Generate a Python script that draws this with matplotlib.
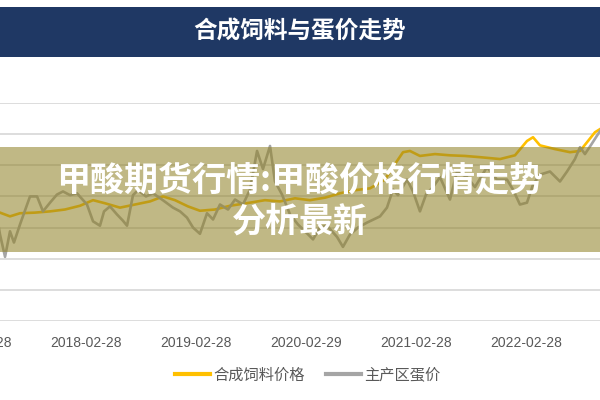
import matplotlib
matplotlib.use("Agg")
import matplotlib.pyplot as plt
from matplotlib.patches import Rectangle
from matplotlib.lines import Line2D

plt.rcParams['font.family'] = ['Noto Sans CJK SC', 'DejaVu Sans']

title = "合成饲料与蛋价走势"
overlay_lines = ["甲酸期货行情:甲酸价格行情走势", "分析最新"]
series_names = ["合成饲料价格", "主产区蛋价"]

tick_pos = [2017.16, 2018.16, 2019.16, 2020.16, 2021.16, 2022.16, 2023.16]
tick_labels = ["2017-02-28", "2018-02-28", "2019-02-28", "2020-02-29",
               "2021-02-28", "2022-02-28", "2023-02-28"]

# feed price (gold line)
feed_x = [2017.378, 2017.469, 2017.56, 2017.696, 2017.833, 2017.969, 2018.105,
          2018.224, 2018.333, 2018.469, 2018.605, 2018.742, 2018.86, 2018.969,
          2019.087, 2019.196, 2019.333, 2019.469, 2019.651, 2019.787, 2019.924,
          2020.06, 2020.196, 2020.333, 2020.469, 2020.605, 2020.742, 2020.878,
          2020.969, 2021.042, 2021.105, 2021.196, 2021.333, 2021.469, 2021.605,
          2021.742, 2021.924, 2022.06, 2022.169, 2022.224, 2022.287, 2022.424,
          2022.56, 2022.651, 2022.724, 2022.787, 2022.878]
feed_y = [3.24, 3.18, 3.23, 3.24, 3.26, 3.29, 3.35,
          3.44, 3.39, 3.32, 3.37, 3.42, 3.50, 3.44,
          3.34, 3.27, 3.29, 3.35, 3.40, 3.44, 3.42,
          3.47, 3.44, 3.48, 3.55, 3.60, 3.63, 3.77,
          4.02, 4.21, 4.23, 4.15, 4.18, 4.16, 4.15,
          4.13, 4.10, 4.16, 4.39, 4.45, 4.32, 4.26,
          4.21, 4.23, 4.39, 4.53, 4.63]

# egg price in main producing areas (gray line)
egg_x = [2017.333, 2017.378, 2017.424, 2017.469, 2017.505, 2017.56, 2017.651,
         2017.715, 2017.769, 2017.833, 2017.896, 2017.951, 2018.015, 2018.078,
         2018.169, 2018.224, 2018.287, 2018.324, 2018.378, 2018.442, 2018.496,
         2018.533, 2018.587, 2018.633, 2018.705, 2018.769, 2018.851, 2018.951,
         2019.015, 2019.078, 2019.133, 2019.196, 2019.26, 2019.315, 2019.378,
         2019.451, 2019.515, 2019.587, 2019.651, 2019.715, 2019.769, 2019.833,
         2019.878, 2019.942, 2020.015, 2020.087, 2020.151, 2020.224, 2020.287,
         2020.351, 2020.442, 2020.496, 2020.56, 2020.633, 2020.715, 2020.833,
         2020.896, 2020.951, 2020.996, 2021.078, 2021.133, 2021.196, 2021.251,
         2021.315, 2021.378, 2021.469, 2021.533, 2021.624, 2021.696, 2021.805,
         2021.896, 2021.987, 2022.042, 2022.105, 2022.169, 2022.224, 2022.287,
         2022.378, 2022.469, 2022.533, 2022.605, 2022.651, 2022.696, 2022.76,
         2022.833, 2022.878]
egg_y = [3.37, 2.89, 2.53, 2.94, 2.76, 3.05, 3.50,
         3.50, 3.26, 3.40, 3.53, 3.58, 3.52, 3.55,
         3.37, 3.10, 3.03, 3.26, 3.34, 3.21, 3.11,
         3.03, 3.52, 3.60, 3.50, 3.55, 3.45, 3.32,
         3.26, 3.16, 3.00, 2.90, 3.23, 3.13, 3.37,
         3.29, 3.45, 3.37, 3.61, 4.23, 3.94, 4.31,
         3.74, 3.53, 3.21, 3.05, 2.94, 2.81, 3.00,
         3.03, 2.85, 2.69, 2.89, 3.00, 3.08, 3.18,
         3.32, 3.61, 3.52, 3.77, 3.58, 3.26, 3.53,
         3.65, 3.81, 3.45, 3.90, 3.81, 3.65, 3.97,
         3.77, 3.77, 3.61, 3.37, 3.40, 3.69, 3.85,
         3.90, 3.74, 3.90, 4.10, 4.29, 4.18, 4.35,
         4.55, 4.66]

gold = "#FFC000"
gray = "#A5A5A5"
text_gray = "#595959"

fig = plt.figure(figsize=(6, 4), dpi=100)
fig.patch.set_facecolor("white")

# plot area runs past both edges of the picture (the source is a crop)
ax = fig.add_axes([-100 / 600, 1 - 321 / 400, 800 / 600, 218 / 400])
ax.plot(feed_x, feed_y, color=gold, linewidth=1.9, zorder=3)
ax.plot(egg_x, egg_y, color=gray, linewidth=1.9, zorder=3)

ax.set_xlim(2016.469, 2023.742)
ax.set_ylim(1.5, 5.0)
ax.set_yticks([1.5, 2.0, 2.5, 3.0, 3.5, 4.0, 4.5, 5.0])
ax.set_xticks(tick_pos, tick_labels)
ax.grid(axis="y", color="#DDDDDD", linewidth=1.4)
ax.set_axisbelow(True)
for s in ax.spines.values():
    s.set_visible(False)
ax.tick_params(axis="y", length=0, labelleft=False)
ax.tick_params(axis="x", length=0, pad=11, labelcolor=text_gray)
for lab in ax.get_xticklabels():
    lab.set_family("Liberation Sans")
    lab.set_fontsize(10)

# title bar
fig.add_artist(Rectangle((0, 1 - 57 / 400), 1, 50 / 400, transform=fig.transFigure,
                         facecolor="#1F3864", edgecolor="none", zorder=2))
fig.text(0.5, 1 - 32 / 400, title, color="white", fontsize=17, fontweight="bold",
         ha="center", va="center", zorder=3)

# legend
handles = [Line2D([], [], color=gold, linewidth=3),
           Line2D([], [], color=gray, linewidth=3)]
fig.legend(handles, series_names, loc="center", bbox_to_anchor=(0.513, 1 - 375 / 400),
           ncol=2, frameon=False, fontsize=11, labelcolor=text_gray,
           handlelength=2.3, handletextpad=0.2, columnspacing=1.4)

# translucent banner with headline
fig.add_artist(Rectangle((0, 1 - 252 / 400), 1, 105 / 400, transform=fig.transFigure,
                         facecolor=(145 / 255, 130 / 255, 40 / 255), alpha=0.57,
                         edgecolor="none", zorder=5))
fig.text(0.5, 1 - 180 / 400, overlay_lines[0], color="white", fontsize=24.5,
         fontweight="heavy", ha="center", va="center", zorder=6)
fig.text(0.5, 1 - 222 / 400, overlay_lines[1], color="white", fontsize=24.5,
         fontweight="heavy", ha="center", va="center", zorder=6)

fig.savefig("out.png", dpi=100)
